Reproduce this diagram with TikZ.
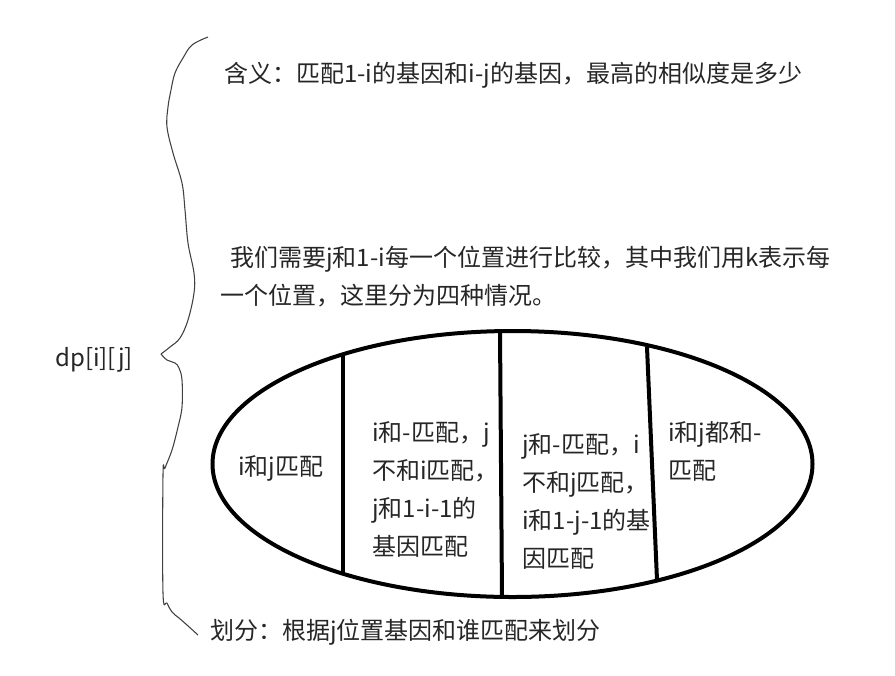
\documentclass[tikz,border=0pt]{standalone}
\usepackage{fontspec}
\setmainfont{Noto Sans CJK SC}
\usetikzlibrary{shapes.geometric}
\tikzset{
  txt/.style={anchor=west, inner sep=0pt, font=\fontsize{18}{28.5}\selectfont, text=black!85, align=left},
  divider/.style={line width=3pt, black},
  bracepath/.style={line width=0.8pt, black!75, line join=round}
}
\begin{document}
\begin{tikzpicture}[x=0.75pt, y=-0.75pt]
\useasboundingbox (0,0) rectangle (895,675);
% brace
\draw[bracepath] plot[smooth, tension=0.6] coordinates {
 (208,37) (192,45) (183,58) (175,73) (171,90) (168,107) (167,127) (173,153)
 (182,183) (185,210) (188,243) (194,273) (194,293) (188,320) (180,338) (170,347) (161,354)};
\draw[bracepath] plot[smooth, tension=0.6] coordinates {
 (161,354) (167,360) (175,363) (179,368) (182,380) (182,407) (178,427) (172,450)
 (165,468) (163,475) (163,593) (167,603) (172,612) (179,618) (187,625) (198,635)};
% texts
\node[txt] (mean) at (224,75) {含义：匹配1-i的基因和i-j的基因，最高的相似度是多少};
\node[txt] (cmp) at (220,277) {\hspace*{7.5pt}我们需要j和1-i每一个位置进行比较，其中我们用k表示每\\一个位置，这里分为四种情况。};
\node[txt] (dp) at (55,360) {dp[i][j]};
\node[txt] (div) at (210,632) {划分：根据j位置基因和谁匹配来划分};
% ellipse
\node[draw, ellipse, line width=3pt, minimum width=450pt, minimum height=199.5pt, inner sep=0pt] (ell) at (512.5,464) {};
\coordinate (l1t) at (343,354); \coordinate (l1b) at (343,574);
\coordinate (l2t) at (500,331); \coordinate (l2b) at (502,597);
\coordinate (l3t) at (647,347); \coordinate (l3b) at (657,580);
\draw[divider] (l1t) -- (l1b);
\draw[divider] (l2t) -- (l2b);
\draw[divider] (l3t) -- (l3b);
\node[txt] (c1) at (238,468) {i和j匹配};
\node[txt] (c2) at (372,489) {i和-匹配，j\\不和i匹配，\\j和1-i-1的\\基因匹配};
\node[txt] (c3) at (522,501) {j和-匹配，i\\不和j匹配，\\i和1-j-1的基\\因匹配};
\node[txt] (c4) at (668,451) {i和j都和-\\匹配};
\end{tikzpicture}
\end{document}
